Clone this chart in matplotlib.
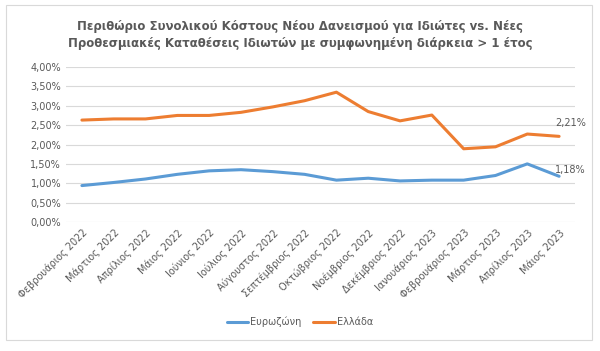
import matplotlib.pyplot as plt
from matplotlib.patches import Rectangle
from matplotlib.ticker import FuncFormatter

# Datos
meses = ["Φεβρουάριος 2022", "Μάρτιος 2022", "Απρίλιος 2022", "Μάιος 2022",
         "Ιούνιος 2022", "Ιούλιος 2022", "Αύγουστος 2022", "Σεπτέμβριος 2022",
         "Οκτώβριος 2022", "Νοέμβριος 2022", "Δεκέμβριος 2022", "Ιανουάριος 2023",
         "Φεβρουάριος 2023", "Μάρτιος 2023", "Απρίλιος 2023", "Μάιος 2023"]
eurozwnh = [0.94, 1.02, 1.11, 1.23, 1.32, 1.35, 1.30, 1.23,
            1.08, 1.13, 1.06, 1.08, 1.08, 1.20, 1.50, 1.18]
ellada = [2.63, 2.66, 2.66, 2.75, 2.75, 2.83, 2.97, 3.13,
          3.35, 2.85, 2.61, 2.76, 1.89, 1.94, 2.27, 2.21]
titulo = ("Περιθώριο Συνολικού Κόστους Νέου Δανεισμού για Ιδιώτες vs. Νέες\n"
          "Προθεσμιακές Καταθέσεις Ιδιωτών με συμφωνημένη διάρκεια > 1 έτος")

gris = "#595959"
azul = "#5B9BD5"
naranja = "#ED7D31"

fig = plt.figure(figsize=(6, 3.51), dpi=100)
fig.patches.append(Rectangle((6/600, 1 - 340/351), 586/600, 335/351,
                             transform=fig.transFigure, fill=False,
                             edgecolor="#D9D9D9", linewidth=0.8))

ax = fig.add_axes([66/600, 1 - 222/351, 509/600, 155/351])
x = range(len(meses))
ax.plot(x, eurozwnh, color=azul, linewidth=2.2, label="Ευρωζώνη", solid_capstyle="round")
ax.plot(x, ellada, color=naranja, linewidth=2.2, label="Ελλάδα", solid_capstyle="round")

ax.set_xlim(-0.5, len(meses) - 0.5)
ax.set_ylim(0, 4)
ax.set_yticks([0, 0.5, 1, 1.5, 2, 2.5, 3, 3.5, 4])
ax.yaxis.set_major_formatter(FuncFormatter(lambda v, p: f"{v:.2f}%".replace(".", ",")))
ax.set_xticks(list(x))
ax.set_xticklabels(meses, rotation=45, ha="right", rotation_mode="anchor")
ax.tick_params(length=0, colors=gris, labelsize=7)
ax.tick_params(axis="x", pad=4)
ax.grid(axis="y", color="#D9D9D9", linewidth=0.8)
ax.set_axisbelow(True)
for s in ax.spines.values():
    s.set_visible(False)

# Etiquetas de los ultimos valores
ultimo = len(meses) - 1
ax.annotate(f"{ellada[-1]:.2f}%".replace(".", ","), (ultimo, ellada[-1]),
            xytext=(8, 6), textcoords="offset points", ha="center", va="bottom",
            fontsize=7, color=gris)
ax.annotate(f"{eurozwnh[-1]:.2f}%".replace(".", ","), (ultimo, eurozwnh[-1]),
            xytext=(8, 1), textcoords="offset points", ha="center", va="bottom",
            fontsize=7, color=gris)

fig.text(0.5, 1 - 35/351, titulo, ha="center", va="center", fontsize=8.5,
         fontweight="bold", color=gris, linespacing=1.45)

fig.legend(loc="center", bbox_to_anchor=(0.5, 1 - 322/351), ncol=2, frameon=False,
           fontsize=7, labelcolor=gris, handlelength=2.2, handletextpad=0.2,
           columnspacing=1.2)

fig.savefig("out.png", dpi=100)
